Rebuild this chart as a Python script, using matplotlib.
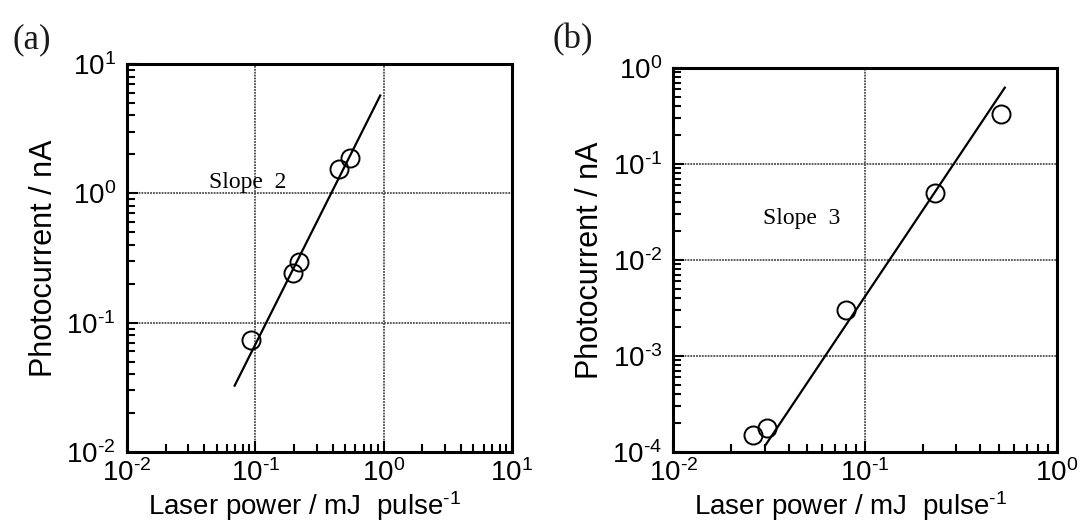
import matplotlib
matplotlib.use("Agg")
import matplotlib.pyplot as plt
from matplotlib.ticker import LogLocator, NullFormatter, FuncFormatter
import numpy as np

plt.rcParams['font.family'] = ['Liberation Sans', 'DejaVu Sans']
plt.rcParams['mathtext.fontset'] = 'custom'
plt.rcParams['mathtext.rm'] = 'Liberation Sans'
plt.rcParams['mathtext.default'] = 'regular'
plt.rcParams['axes.unicode_minus'] = False

# ---- data panel (a) ----
a_power = [0.093, 0.195, 0.217, 0.445, 0.542]
a_current = [0.073, 0.24, 0.295, 1.54, 1.88]
a_fit_x = [0.069, 0.94]
a_fit_y = [0.0326, 5.7]
a_xlim = [1e-2, 1e1]
a_ylim = [1e-2, 1e1]

# ---- data panel (b) ----
b_power = [0.0261, 0.0309, 0.0796, 0.232, 0.513]
b_current = [1.51e-4, 1.78e-4, 3.05e-3, 0.0495, 0.33]
b_fit_x = [0.0301, 0.536]
b_fit_y = [1.16e-4, 0.624]
b_xlim = [1e-2, 1e0]
b_ylim = [1e-4, 1e0]

HY = '\u2010'
xlabel = 'Laser power / mJ  pulse$^{' + HY + '1}$'
ylabel = 'Photocurrent / nA'


def decade_fmt(v, pos):
    e = int(round(np.log10(v)))
    s = (HY + str(-e)) if e < 0 else str(e)
    return '$10^{' + s + '}$'


fig = plt.figure(figsize=(10.81, 5.21), dpi=100)
ax_a = fig.add_axes([127/1081, 1-452/521, 385/1081, 388/521])
ax_b = fig.add_axes([673.3/1081, 1-452/521, 383.4/1081, 384/521])


def style(ax, px, py, fx, fy, xlim, ylim, slope_txt, slope_xy, xlab_x):
    ax.set_xscale('log')
    ax.set_yscale('log')
    ax.set_xlim(xlim)
    ax.set_ylim(ylim)
    ax.plot(fx, fy, color='black', lw=1.6, zorder=3)
    ax.plot(px, py, linestyle='none', marker='o', ms=13, mfc='none',
            mec='black', mew=1.4, zorder=4)
    ax.grid(True, which='major', color='0.3', linestyle=(0, (1, 0.6)), lw=1.3)
    ax.xaxis.set_major_locator(LogLocator(base=10, numticks=20))
    ax.yaxis.set_major_locator(LogLocator(base=10, numticks=20))
    ax.xaxis.set_minor_locator(LogLocator(base=10, subs=np.arange(2, 10), numticks=20))
    ax.yaxis.set_minor_locator(LogLocator(base=10, subs=np.arange(2, 10), numticks=20))
    ax.xaxis.set_major_formatter(FuncFormatter(decade_fmt))
    ax.yaxis.set_major_formatter(FuncFormatter(decade_fmt))
    ax.xaxis.set_minor_formatter(NullFormatter())
    ax.yaxis.set_minor_formatter(NullFormatter())
    ax.tick_params(which='both', direction='in', top=False, right=False,
                   width=1.5, color='black')
    ax.tick_params(which='major', length=8, labelsize=20)
    ax.tick_params(which='minor', length=6)
    ax.tick_params(axis='x', which='major', pad=5)
    ax.tick_params(axis='y', which='major', pad=8)
    for s in ax.spines.values():
        s.set_linewidth(2.2)
    ax.set_xlabel(xlabel, fontsize=20)
    ax.xaxis.set_label_coords(xlab_x, -0.096)
    ax.set_ylabel(ylabel, fontsize=22, labelpad=5)
    ax.text(slope_xy[0], slope_xy[1], slope_txt, fontsize=17,
            family=['Liberation Serif'], ha='left', va='baseline')


style(ax_a, a_power, a_current, a_fit_x, a_fit_y, a_xlim, a_ylim,
      'Slope  2', (0.0437, 1.1), 0.46)
style(ax_b, b_power, b_current, b_fit_x, b_fit_y, b_xlim, b_ylim,
      'Slope  3', (0.0295, 0.0239), 0.463)

fig.text(12/1081, 1-48/521, '(a)', fontsize=25, family=['Liberation Serif'],
         color='#1a1a1a', ha='left', va='baseline')
fig.text(552/1081, 1-48/521, '(b)', fontsize=25, family=['Liberation Serif'],
         color='#1a1a1a', ha='left', va='baseline')

fig.savefig('out.png', dpi=100)
